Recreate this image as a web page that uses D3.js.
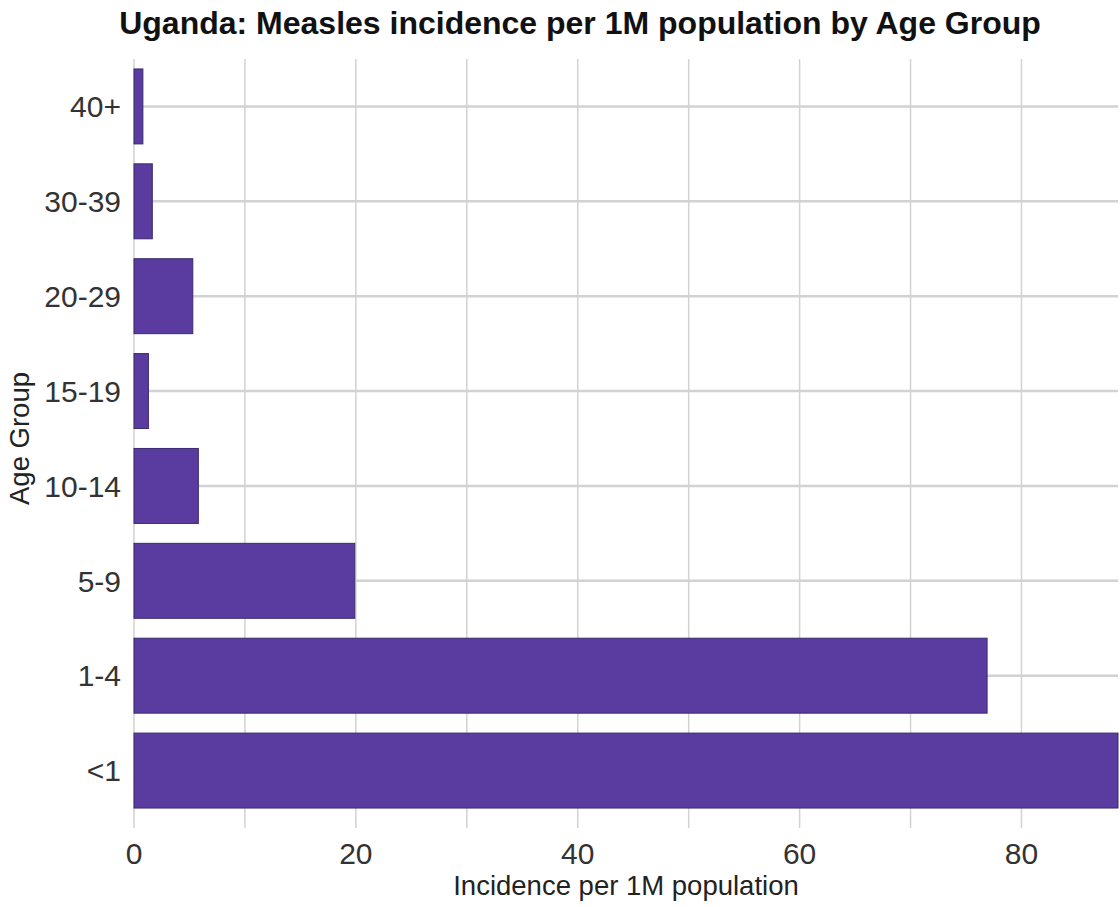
<!DOCTYPE html>
<html>
<head>
<meta charset="utf-8">
<script src="https://cdn.jsdelivr.net/npm/d3@7"></script>
<style>
  body { margin: 0; background: #fff; }
  text { font-family: "Liberation Sans", Arial, sans-serif; }
</style>
</head>
<body>
<div id="chart"></div>
<script>
// age groups, top to bottom
var ageGroups = ["40+", "30-39", "20-29", "15-19", "10-14", "5-9", "1-4", "<1"]
// incidence per 1M population
var incidence = [0.8, 1.65, 5.3, 1.3, 5.8, 19.9, 76.9, 88.7]
var xTicks = [0, 20, 40, 60, 80]
var xGrid = [0, 10, 20, 30, 40, 50, 60, 70, 80]

var width = 1120
var height = 907
var margin = {top: 59, right: 2, bottom: 89, left: 134}

var svg = d3.select("#chart")
	.append("svg")
	.attr("width", width)
	.attr("height", height)

var x = d3.scaleLinear()
	.domain([0, 88.7])
	.range([margin.left, width - margin.right])

var y = d3.scaleBand()
	.domain(ageGroups)
	.range([margin.top, height - margin.bottom])
	.paddingInner(0.21)
	.paddingOuter(0.105)

var plotBottom = height - margin.bottom

// vertical grid lines (extend below as ticks)
svg.append("g")
	.selectAll("line")
	.data(xGrid)
	.enter()
	.append("line")
	.attr("x1", d => x(d))
	.attr("x2", d => x(d))
	.attr("y1", margin.top)
	.attr("y2", plotBottom + 10)
	.style("stroke", "#d2d2d2")
	.style("stroke-width", 1.5)

// horizontal grid lines at each category
svg.append("g")
	.selectAll("line")
	.data(ageGroups)
	.enter()
	.append("line")
	.attr("x1", margin.left)
	.attr("x2", width - margin.right)
	.attr("y1", d => y(d) + y.bandwidth() / 2)
	.attr("y2", d => y(d) + y.bandwidth() / 2)
	.style("stroke", "#d2d2d2")
	.style("stroke-width", 2.5)

// bars
svg.append("g")
	.selectAll("rect")
	.data(ageGroups)
	.enter()
	.append("rect")
	.attr("x", x(0))
	.attr("y", d => y(d))
	.attr("height", y.bandwidth())
	.attr("width", (d, i) => x(incidence[i]) - x(0))
	.style("fill", "#5a3b9f")
	.style("stroke", "#3a2b6c")
	.style("stroke-width", 1)

// y axis labels
svg.append("g")
	.selectAll("text")
	.data(ageGroups)
	.enter()
	.append("text")
	.attr("x", margin.left - 13)
	.attr("y", d => y(d) + y.bandwidth() / 2)
	.attr("dy", "0.36em")
	.attr("text-anchor", "end")
	.style("font-size", "30px")
	.style("fill", "#333")
	.text(d => d)

// x axis labels
svg.append("g")
	.selectAll("text")
	.data(xTicks)
	.enter()
	.append("text")
	.attr("x", d => x(d))
	.attr("y", plotBottom + 46)
	.attr("text-anchor", "middle")
	.style("font-size", "30px")
	.style("fill", "#333")
	.text(d => d)

// axis titles
svg.append("text")
	.attr("x", 626)
	.attr("y", 895)
	.attr("text-anchor", "middle")
	.style("font-size", "27.5px")
	.style("fill", "#222")
	.text("Incidence per 1M population")

svg.append("text")
	.attr("transform", "translate(29," + ((margin.top + plotBottom) / 2) + ") rotate(-90)")
	.attr("text-anchor", "middle")
	.style("font-size", "27.5px")
	.style("fill", "#222")
	.text("Age Group")

// title
svg.append("text")
	.attr("x", 580)
	.attr("y", 34)
	.attr("text-anchor", "middle")
	.style("font-size", "32px")
	.style("font-weight", "bold")
	.style("fill", "#111")
	.text("Uganda: Measles incidence per 1M population by Age Group")
</script>
</body>
</html>
